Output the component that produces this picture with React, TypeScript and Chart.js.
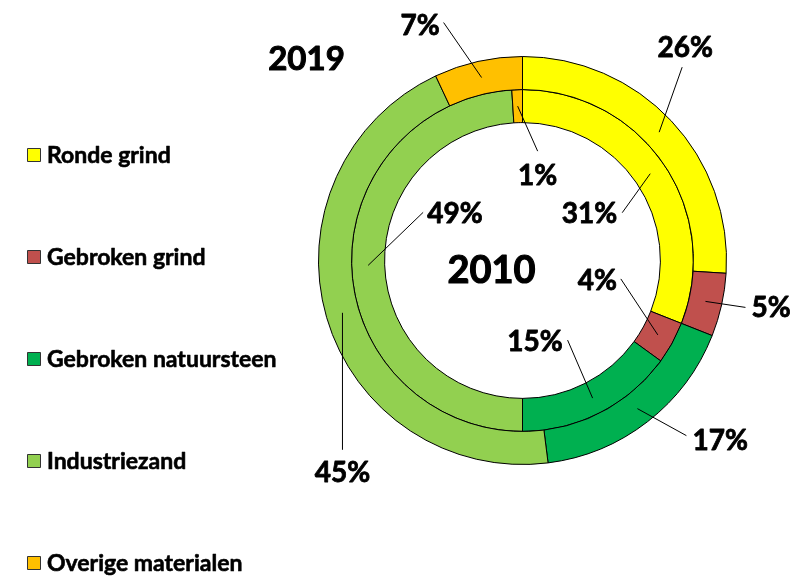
import React, { useEffect, useRef } from "react";
import { Chart, registerables } from "chart.js";

Chart.register(...registerables);

const categories = ["Ronde grind", "Gebroken grind", "Gebroken natuursteen", "Industriezand", "Overige materialen"];
const values2019 = [26, 5, 17, 45, 7];
const values2010 = [31, 4, 15, 49, 1];
const colors = ["#FFFF00", "#C0504D", "#00B050", "#92D050", "#FFC000"];
const ringYears = ["2019", "2010"];

// leader line offsets from arc centre [dx, dy], text align, text offset from line end [tdx, tdy]
type LabelCfg = { dx: number; dy: number; align: CanvasTextAlign; tdx: number; tdy: number };
const outerLabelCfg: LabelCfg[] = [
  { dx: 23, dy: -65, align: "center", tdx: 3, tdy: -19 },
  { dx: 40, dy: 6, align: "left", tdx: 6, tdy: 1 },
  { dx: 49, dy: 27, align: "left", tdx: 6, tdy: 5 },
  { dx: 0, dy: 137, align: "center", tdx: 0, tdy: 23 },
  { dx: -38, dy: -55, align: "right", tdx: -4, tdy: 3 },
];
const innerLabelCfg: LabelCfg[] = [
  { dx: -28, dy: 39, align: "right", tdx: -5, tdy: 1 },
  { dx: -37, dy: -56, align: "right", tdx: -4, tdy: 2 },
  { dx: -25, dy: -58, align: "right", tdx: -5, tdy: 2 },
  { dx: 55, dy: -53, align: "left", tdx: 4, tdy: 2 },
  { dx: 20, dy: 45, align: "center", tdx: 0, tdy: 25 },
];

const FONT = "Lato, 'Open Sans', sans-serif";

function heavyText(ctx: CanvasRenderingContext2D, text: string, x: number, y: number, stroke: number) {
  ctx.fillText(text, x, y);
  ctx.lineWidth = stroke;
  ctx.strokeStyle = "#000";
  ctx.strokeText(text, x, y);
}

const overlayPlugin = {
  id: "overlay",
  afterDatasetsDraw(chart: any) {
    const ctx: CanvasRenderingContext2D = chart.ctx;
    ctx.save();
    ctx.lineJoin = "round";
    const cfgs = [outerLabelCfg, innerLabelCfg];
    chart.data.datasets.forEach((ds: any, di: number) => {
      const meta = chart.getDatasetMeta(di);
      meta.data.forEach((arc: any, i: number) => {
        const c = arc.getCenterPoint();
        const cfg = cfgs[di][i];
        const ex = c.x + cfg.dx;
        const ey = c.y + cfg.dy;
        ctx.beginPath();
        ctx.strokeStyle = "#000";
        ctx.lineWidth = 1;
        ctx.moveTo(c.x, c.y);
        ctx.lineTo(ex, ey);
        ctx.stroke();
        ctx.fillStyle = "#000";
        ctx.font = `bold 28px ${FONT}`;
        ctx.textAlign = cfg.align;
        ctx.textBaseline = "middle";
        heavyText(ctx, `${ds.data[i]}%`, ex + cfg.tdx, ey + cfg.tdy, 0.8);
      });
    });
    // year titles
    const m0 = chart.getDatasetMeta(0).data[0];
    const cx = m0.x;
    const cy = m0.y;
    ctx.fillStyle = "#000";
    ctx.textAlign = "center";
    ctx.textBaseline = "middle";
    ctx.font = `bold 33px ${FONT}`;
    heavyText(ctx, ringYears[0], cx - 216, cy - 201, 1);
    ctx.font = `bold 38px ${FONT}`;
    heavyText(ctx, ringYears[1], cx - 31, cy + 10, 1.1);

    // legend
    chart.data.labels.forEach((lab: string, i: number) => {
      const y = 155 + i * 102;
      ctx.fillStyle = colors[i];
      ctx.fillRect(27.5, y - 6.5, 13, 13);
      ctx.strokeStyle = "#333";
      ctx.lineWidth = 1;
      ctx.strokeRect(27.5, y - 6.5, 13, 13);
      ctx.fillStyle = "#000";
      ctx.font = `bold 23px ${FONT}`;
      ctx.textAlign = "left";
      ctx.textBaseline = "middle";
      heavyText(ctx, lab, 47, y + 1, 0.6);
    });
    ctx.restore();
  },
};

export default function App() {
  const ref = useRef<HTMLCanvasElement | null>(null);
  useEffect(() => {
    if (!ref.current) return;
    const chart = new Chart(ref.current, {
      type: "doughnut",
      data: {
        labels: categories,
        datasets: [
          { label: ringYears[0], data: values2019, backgroundColor: colors, borderColor: "#000", borderWidth: 1 },
          { label: ringYears[1], data: values2010, backgroundColor: colors, borderColor: "#000", borderWidth: 1 },
        ],
      },
      options: {
        responsive: false,
        animation: false,
        cutout: "67.6%",
        layout: { padding: { left: 318, top: 56, right: 78, bottom: 112 } },
        plugins: { legend: { display: false }, tooltip: { enabled: false }, title: { display: false } },
      },
      plugins: [overlayPlugin],
    });
    return () => chart.destroy();
  }, []);
  return (
    <div style={{ position: "fixed", left: 0, top: 0, width: 805, height: 577, background: "#fff" }}>
      <canvas ref={ref} width={805} height={577} style={{ width: 805, height: 577 }} />
    </div>
  );
}
